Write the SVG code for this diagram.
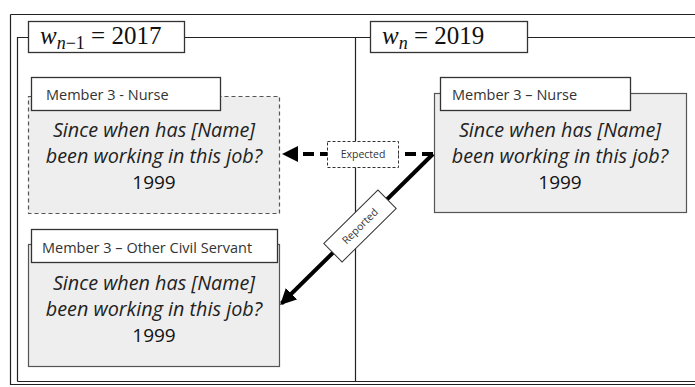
<svg xmlns="http://www.w3.org/2000/svg" width="695" height="387" viewBox="0 0 695 387">
<style>
.frame{fill:none;stroke:#222;stroke-width:1.2}
.body{fill:#eeeeee;stroke:#555;stroke-width:1.2}
.dash{stroke-dasharray:4 3}
.hdr{fill:#fff;stroke:#333;stroke-width:1.3}
.ht{font-family:"Open Sans",sans-serif;font-size:14.5px;fill:#333}
.q{font-family:"Open Sans",sans-serif;font-size:19.8px;font-style:italic;fill:#222;text-anchor:middle}
.y{font-family:"Open Sans",sans-serif;font-size:19px;fill:#111;text-anchor:middle}
.math{font-family:"Liberation Serif","DejaVu Serif",serif;font-size:25px;fill:#111}
.lbl{font-family:"Open Sans",sans-serif;font-size:10.5px;fill:#333;text-anchor:middle}
</style>
<defs>
<marker id="ah" markerWidth="4" markerHeight="4" refX="3.5" refY="2" orient="auto" markerUnits="strokeWidth">
<path d="M0,0 L4,2 L0,4 Z" fill="#000"/>
</marker>
</defs>
<rect x="0" y="0" width="695" height="387" fill="#fff"/>
<g id="frames">
<path class="frame" d="M10.5,14.5 H695 M10.5,14.5 V384.5 H695" stroke-width="2"/>
<path class="frame" d="M17.5,381.5 V37.5 H28 M185,37.5 H370 M528,37.5 H695 M17.5,381.5 H695 M355.5,37.5 V381.5"/>
<rect x="28.5" y="21.5" width="156" height="31" class="hdr"/>
<rect x="370.5" y="21.5" width="157" height="31" class="hdr"/>
<text class="math" x="40" y="44"><tspan font-style="italic">w</tspan><tspan font-style="italic" font-size="18px" dy="5">n</tspan><tspan font-size="18px">−1</tspan><tspan dy="-5"> = 2017</tspan></text>
<text class="math" x="382" y="44"><tspan font-style="italic">w</tspan><tspan font-style="italic" font-size="18px" dy="5">n</tspan><tspan dy="-5"> = 2019</tspan></text>
</g>
<g id="node-left-top">
<rect x="28.5" y="96.5" width="251" height="117" class="body dash"/>
<rect x="31.5" y="77.5" width="189" height="33" class="hdr"/>
<text class="ht" x="46" y="99.5">Member 3 - Nurse</text>
<text class="q" x="154" y="137">Since when has [Name]</text>
<text class="q" x="154" y="163">been working in this job?</text>
<text class="y" x="154" y="189">1999</text>
</g>
<g id="node-right">
<rect x="434.5" y="93.5" width="252" height="119" class="body"/>
<rect x="440.5" y="77.5" width="190" height="33" class="hdr"/>
<text class="ht" x="452" y="99.5">Member 3 – Nurse</text>
<text class="q" x="560" y="137">Since when has [Name]</text>
<text class="q" x="560" y="163">been working in this job?</text>
<text class="y" x="560" y="189">1999</text>
</g>
<g id="node-left-bottom">
<rect x="28.5" y="244.5" width="251" height="122" class="body"/>
<rect x="31.5" y="229.5" width="246" height="33" class="hdr"/>
<text class="ht" x="42" y="252.5">Member 3 – Other Civil Servant</text>
<text class="q" x="154" y="290">Since when has [Name]</text>
<text class="q" x="154" y="316">been working in this job?</text>
<text class="y" x="154" y="342">1999</text>
</g>
<g id="connectors">
<line x1="433" y1="154" x2="284" y2="154" stroke="#000" stroke-width="4" stroke-dasharray="11 6" marker-end="url(#ah)"/>
<line x1="433" y1="154" x2="281.5" y2="303.5" stroke="#000" stroke-width="4" marker-end="url(#ah)"/>
<g id="label-expected">
<rect x="327.5" y="141.5" width="71" height="26" fill="#fff" stroke="#333" stroke-width="1" stroke-dasharray="3 2"/>
<text class="lbl" x="363" y="158">Expected</text>
</g>
<g id="label-reported" transform="translate(360,226) rotate(-44.6)">
<rect x="-38" y="-13" width="76" height="26" fill="#fff" stroke="#333" stroke-width="1"/>
<text class="lbl" x="0" y="3.8">Reported</text>
</g>
</g>
</svg>
